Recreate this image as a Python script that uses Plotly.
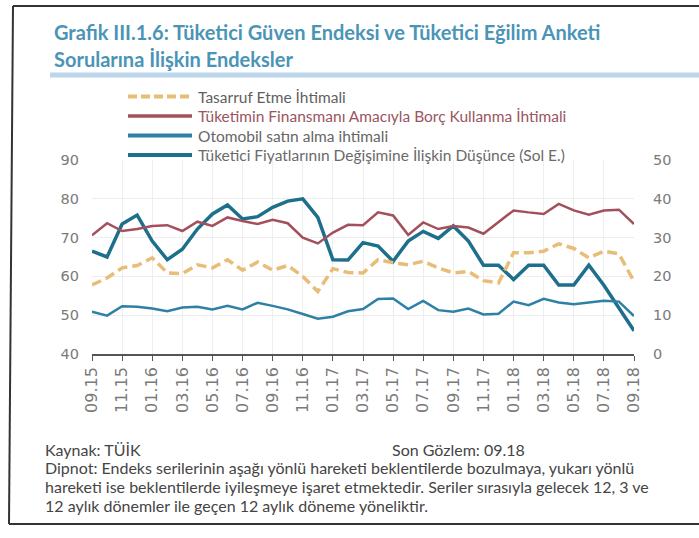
import plotly.graph_objects as go

months = ["09.15","10.15","11.15","12.15","01.16","02.16","03.16","04.16","05.16","06.16",
          "07.16","08.16","09.16","10.16","11.16","12.16","01.17","02.17","03.17","04.17",
          "05.17","06.17","07.17","08.17","09.17","10.17","11.17","12.17","01.18","02.18",
          "03.18","04.18","05.18","06.18","07.18","08.18","09.18"]

# right axis series
tasarruf = [17.8, 19.6, 22.2, 22.8, 24.8, 20.9, 20.7, 23.0, 22.2, 24.3, 21.6, 23.7, 21.6, 22.8,
            20.0, 16.1, 22.0, 21.0, 20.9, 24.3, 23.5, 23.0, 23.9, 22.2, 20.9, 21.3, 18.9, 18.3,
            26.1, 26.1, 26.5, 28.4, 27.2, 24.8, 26.5, 25.8, 18.7]
borc = [30.6, 33.7, 31.7, 32.2, 33.0, 33.2, 31.7, 34.1, 33.0, 35.2, 34.3, 33.5, 34.6, 33.7,
        30.0, 28.5, 31.3, 33.3, 33.2, 36.5, 35.7, 30.7, 33.9, 32.2, 33.0, 32.6, 31.0, 33.9,
        37.0, 36.5, 36.1, 38.7, 37.0, 35.9, 37.0, 37.2, 33.5]
otomobil = [10.9, 9.9, 12.3, 12.2, 11.7, 11.0, 12.0, 12.2, 11.5, 12.4, 11.5, 13.2, 12.4, 11.5,
            10.3, 9.1, 9.6, 11.0, 11.6, 14.2, 14.3, 11.6, 13.7, 11.3, 10.9, 11.7, 10.2, 10.4,
            13.5, 12.6, 14.2, 13.3, 12.8, 13.3, 13.7, 13.5, 9.8]
# left axis series
fiyat = [66.5, 65.0, 73.5, 75.8, 69.1, 64.3, 67.0, 72.2, 76.1, 78.4, 74.8, 75.4, 77.8, 79.4,
         80.0, 75.2, 64.3, 64.2, 68.7, 67.8, 63.9, 69.1, 71.6, 69.8, 73.0, 69.1, 62.9, 62.9,
         59.2, 62.9, 62.9, 57.8, 57.8, 62.9, 57.7, 51.9, 46.0]

tick_labels = months[::2]

names = ["Tasarruf Etme İhtimali",
         "Tüketimin Finansmanı Amacıyla Borç Kullanma İhtimali",
         "Otomobil satın alma ihtimali",
         "Tüketici Fiyatlarının Değişimine İlişkin Düşünce (Sol E.)"]
colors = ["#E8BD78", "#A3505C", "#2E80A6", "#1D6F8C"]
text_colors = ["#5f5f5f", "#9A5560", "#666666", "#6a6a6a"]

W, H = 699, 538
L, R, T, B = 92, 634, 160, 354

def px(x):
    return (x - L) / (R - L)

def py(y):
    return (B - y) / (B - T)

fig = go.Figure()
fig.add_trace(go.Scatter(x=months, y=tasarruf, yaxis="y2", mode="lines", name=names[0],
                         line=dict(color=colors[0], width=3.5, dash="10px,5px")))
fig.add_trace(go.Scatter(x=months, y=borc, yaxis="y2", mode="lines", name=names[1],
                         line=dict(color=colors[1], width=2.5)))
fig.add_trace(go.Scatter(x=months, y=otomobil, yaxis="y2", mode="lines", name=names[2],
                         line=dict(color=colors[2], width=2.5)))
fig.add_trace(go.Scatter(x=months, y=fiyat, yaxis="y", mode="lines", name=names[3],
                         line=dict(color=colors[3], width=3.5)))

shapes = []
annotations = []

# manual legend
legend_rows = [96.5, 116, 135.5, 155]
for i, yy in enumerate(legend_rows):
    d = dict(type="line", xref="paper", yref="paper", x0=px(128), x1=px(192), y0=py(yy), y1=py(yy),
             line=dict(color=colors[i], width=4 if i != 1 else 3.5))
    if i == 0:
        d["line"]["dash"] = "9px,4px"
    shapes.append(d)
    annotations.append(dict(xref="paper", yref="paper", x=px(196), y=py(yy), xanchor="left", yanchor="middle",
                            text=names[i], showarrow=False,
                            font=dict(family="Lato", size=15.5, color=text_colors[i])))

# title
title_font = dict(family="Lato", size=20, color="#4A94B6", weight="bold")
annotations.append(dict(xref="paper", yref="paper", x=px(52), y=py(32), xanchor="left", yanchor="middle",
                        text="Grafik III.1.6: Tüketici Güven Endeksi ve Tüketici Eğilim Anketi",
                        showarrow=False, font=title_font))
annotations.append(dict(xref="paper", yref="paper", x=px(52), y=py(59), xanchor="left", yanchor="middle",
                        text="Sorularına İlişkin Endeksler",
                        showarrow=False, font=title_font))

# footer
foot_font = dict(family="Lato", size=16, color="#454545")
annotations.append(dict(xref="paper", yref="paper", x=px(43), y=py(449), xanchor="left", yanchor="middle",
                        text="Kaynak: TÜİK", showarrow=False, font=foot_font))
annotations.append(dict(xref="paper", yref="paper", x=px(390), y=py(449), xanchor="left", yanchor="middle",
                        text="Son Gözlem: 09.18", showarrow=False, font=foot_font))
foot_lines = ["Dipnot: Endeks serilerinin aşağı yönlü hareketi beklentilerde bozulmaya, yukarı yönlü",
              "hareketi ise beklentilerde iyileşmeye işaret etmektedir. Seriler sırasıyla gelecek 12, 3 ve",
              "12 aylık dönemler ile geçen 12 aylık döneme yöneliktir."]
for yy, t in zip([467.5, 486.5, 505.5], foot_lines):
    annotations.append(dict(xref="paper", yref="paper", x=px(43), y=py(yy), xanchor="left", yanchor="middle",
                            text=t, showarrow=False, font=foot_font))

# frame and title bar
shapes.append(dict(type="line", xref="paper", yref="paper", x0=px(13), x1=px(705), y0=py(6), y1=py(6),
                   line=dict(color="#333333", width=2)))
shapes.append(dict(type="line", xref="paper", yref="paper", x0=px(13), x1=px(9), y0=py(6), y1=py(524),
                   line=dict(color="#333333", width=2)))
shapes.append(dict(type="line", xref="paper", yref="paper", x0=px(9), x1=px(705), y0=py(524), y1=py(524),
                   line=dict(color="#333333", width=2)))
shapes.append(dict(type="line", xref="paper", yref="paper", x0=px(50), x1=px(705), y0=py(75), y1=py(75),
                   line=dict(color="#BCD6EC", width=5)))

fig.update_layout(
    width=W, height=H,
    margin=dict(l=L, r=W - R, t=T, b=H - B, pad=0),
    paper_bgcolor="white", plot_bgcolor="white",
    showlegend=False,
    shapes=shapes, annotations=annotations,
    xaxis=dict(type="category", range=[0, 36], tickmode="array", tickvals=tick_labels, ticktext=tick_labels,
               tickangle=-90, tickfont=dict(family="DejaVu Sans", size=16, color="#7a7a7a"),
               showline=True, linecolor="#555555", linewidth=1.5, ticks="outside", ticklen=5,
               tickcolor="#555555", showgrid=True, gridcolor="#eeeeee", zeroline=False),
    yaxis=dict(range=[40, 90], dtick=10, tickfont=dict(family="DejaVu Sans", size=14.5, color="#7a7a7a"),
               showgrid=True, gridcolor="#eeeeee", zeroline=False, showline=False, ticks="",
               ticklabelstandoff=12),
    yaxis2=dict(range=[0, 50], dtick=10, overlaying="y", side="right",
                tickfont=dict(family="DejaVu Sans", size=14.5, color="#7a7a7a"),
                showgrid=False, zeroline=False, showline=False, ticks="", ticklabelstandoff=18),
)

fig.write_html("out.html", config={"displayModeBar": False},
               post_script="document.body.style.margin='0px';")
